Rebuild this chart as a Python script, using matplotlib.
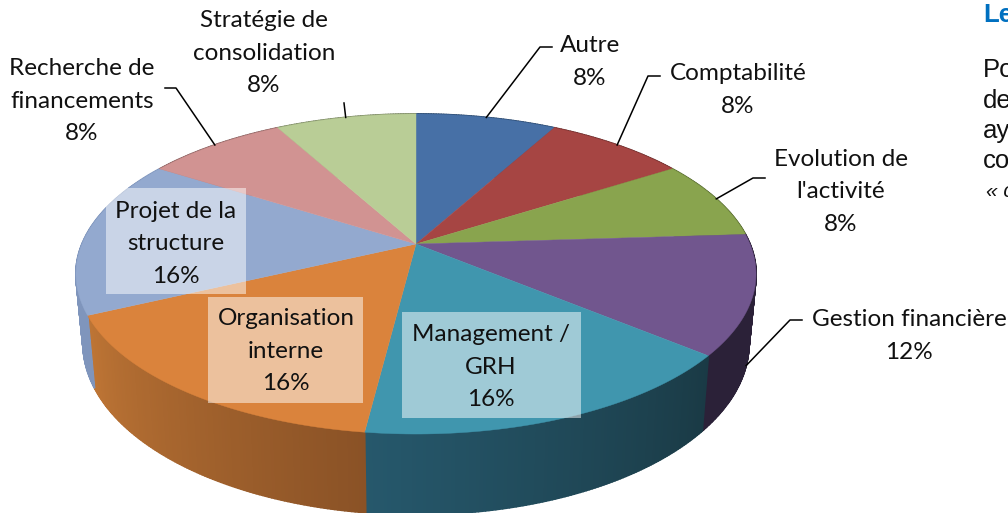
import numpy as np
import matplotlib
matplotlib.use("Agg")
import matplotlib.pyplot as plt
from matplotlib.collections import PolyCollection
from matplotlib.colors import to_rgb
from matplotlib.patches import Rectangle

# ---- data ----
categories = ["Autre", "Comptabilité", "Evolution de\nl'activité", "Gestion financière",
              "Management /\nGRH", "Organisation\ninterne", "Projet de la\nstructure",
              "Recherche de\nfinancements", "Stratégie de\nconsolidation"]
values = [8, 8, 8, 12, 16, 16, 16, 8, 8]
top_colors = ["#4770A6", "#A64543", "#89A44E", "#71568E", "#4096AE", "#DA833C", "#93A9CF", "#D19392", "#B9CD96"]
side_from = ["#2B4A70", "#6E2E2D", "#5B6E34", "#2B2138", "#1A3A45", "#8A5226", "#7F95BC", "#8C6261", "#7C8964"]
side_to = ["#2B4A70", "#6E2E2D", "#5B6E34", "#2B2138", "#26586C", "#BE7535", "#7F95BC", "#8C6261", "#7C8964"]
label_pos = [(590, 62), (738, 90), (841, 192), (909, 336), (491, 367), (286, 351), (176, 244), (82, 101), (264, 53)]
boxes = [None, None, None, None, (402, 312, 179, 106), (208, 297, 155, 106), (106, 188, 140, 106), None, None]
elbows = [[(540, 47), (552, 47)], [(648, 76), (660, 76)], [(753, 178), (765, 178)], [(790, 320), (802, 320)],
          None, None, None, [(176, 88), (165, 88)], [(344, 103)]]
side_lines = ["Le", "Po", "de", "ay", "co", "« c"]

# ---- projection of the tilted disc ----
CX, K = 416, 0.1875


def rim(deg, cy, a, r):
    t = np.radians(deg)
    X, Y = np.sin(t), -np.cos(t)
    w = 1 - K * Y
    return CX + r * X / w, cy + a * Y / w


def top(deg):
    return rim(deg, 244, 154.4, 334)


def bottom(deg):
    return rim(deg, 311.5, 165, 327)


fig = plt.figure(figsize=(10.08, 5.13), dpi=100)
ax = fig.add_axes([0, 0, 1, 1])
ax.set_xlim(0, 1008)
ax.set_ylim(513, 0)
ax.axis("off")

plt.rcParams["font.family"] = ["Lato", "DejaVu Sans"]

edges = np.concatenate([[0], np.cumsum(values)]) / np.sum(values) * 360

# side wall
polys, cols = [], []
for s, e, c0, c1 in zip(edges[:-1], edges[1:], side_from, side_to):
    n = max(2, int(e - s) * 2)
    ts = np.linspace(s, e, n + 1)
    c0, c1 = np.array(to_rgb(c0)), np.array(to_rgb(c1))
    for i in range(n):
        a, b = ts[i], ts[i + 1]
        xa, ya = top(a)
        xb, yb = top(b)
        xc, yc = bottom(b)
        xd, yd = bottom(a)
        polys.append([(xa, ya), (xb, yb), (xc, yc), (xd, yd)])
        cols.append(c0 + (c1 - c0) * (i + 0.5) / n)
ax.add_collection(PolyCollection(polys, facecolors=cols, edgecolors=cols, linewidths=1.3, zorder=1))

# top face
for s, e, c in zip(edges[:-1], edges[1:], top_colors):
    ts = np.linspace(s, e, 60)
    xs, ys = top(ts)
    ax.fill(np.r_[CX, xs], np.r_[244, ys], facecolor=c, edgecolor=c, linewidth=0.3, zorder=2)

# label boxes, leaders, labels
mids = (edges[:-1] + edges[1:]) / 2
for name, v, pos, box, elbow, m in zip(categories, values, label_pos, boxes, elbows, mids):
    if box:
        ax.add_patch(Rectangle(box[:2], box[2], box[3], facecolor="white", alpha=0.5, edgecolor="none", zorder=3))
    if elbow:
        start = bottom(m) if 90 < m < 270 else top(m)
        pts = [start] + elbow
        ax.plot(*zip(*pts), color="black", lw=1.1, zorder=3, solid_joinstyle="round")
    ax.text(pos[0], pos[1], f"{name}\n{v}%", ha="center", va="center", fontsize=17.5,
            linespacing=1.66, color="#111111", zorder=4)

# page text that the reference itself crops at its right edge
ax.text(983, 22, side_lines[0], color="#0070C0", fontsize=18.5, fontweight="bold",
        family="Liberation Sans", ha="left", va="baseline")
for y, t in zip([77, 108, 138, 168], side_lines[1:5]):
    ax.text(983, y, t, color="#111111", fontsize=18.5, family="Liberation Sans", ha="left", va="baseline")
ax.text(986, 197, side_lines[5], color="#111111", fontsize=15, family="Liberation Sans", style="italic",
        ha="left", va="baseline")

fig.savefig("out.png", dpi=100, facecolor="white")
